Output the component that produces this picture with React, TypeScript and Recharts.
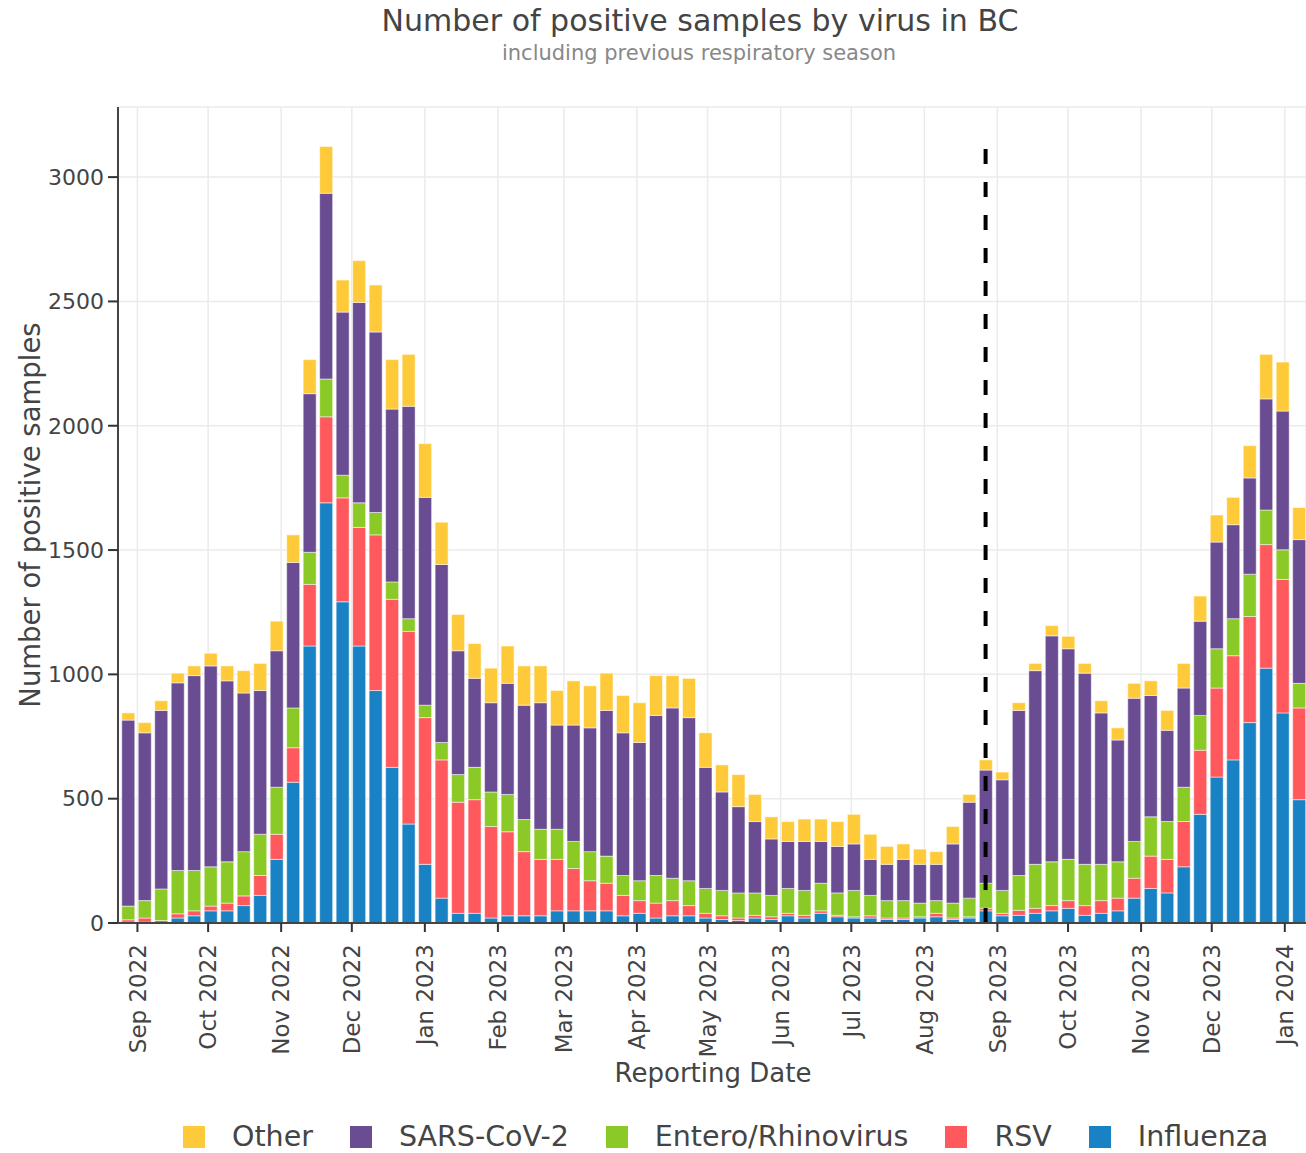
import React from "react"
import {
  BarChart,
  Bar,
  XAxis,
  YAxis,
  CartesianGrid,
  ReferenceLine,
} from "recharts"

// weekly reporting dates (week start)
const weeks = [
  "2022-08-28", "2022-09-04", "2022-09-11", "2022-09-18", "2022-09-25", "2022-10-02",
  "2022-10-09", "2022-10-16", "2022-10-23", "2022-10-30", "2022-11-06", "2022-11-13",
  "2022-11-20", "2022-11-27", "2022-12-04", "2022-12-11", "2022-12-18", "2022-12-25",
  "2023-01-01", "2023-01-08", "2023-01-15", "2023-01-22", "2023-01-29", "2023-02-05",
  "2023-02-12", "2023-02-19", "2023-02-26", "2023-03-05", "2023-03-12", "2023-03-19",
  "2023-03-26", "2023-04-02", "2023-04-09", "2023-04-16", "2023-04-23", "2023-04-30",
  "2023-05-07", "2023-05-14", "2023-05-21", "2023-05-28", "2023-06-04", "2023-06-11",
  "2023-06-18", "2023-06-25", "2023-07-02", "2023-07-09", "2023-07-16", "2023-07-23",
  "2023-07-30", "2023-08-06", "2023-08-13", "2023-08-20", "2023-08-27", "2023-09-03",
  "2023-09-10", "2023-09-17", "2023-09-24", "2023-10-01", "2023-10-08", "2023-10-15",
  "2023-10-22", "2023-10-29", "2023-11-05", "2023-11-12", "2023-11-19", "2023-11-26",
  "2023-12-03", "2023-12-10", "2023-12-17", "2023-12-24", "2023-12-31", "2024-01-07",
]

const influenza = [
  3, 3, 2, 20, 29, 49, 49, 70, 111, 256, 566, 1114, 1690, 1292, 1114, 935, 626, 398,
  236, 100, 39, 39, 20, 29, 29, 29, 49, 49, 49, 49, 29, 39, 20, 29, 29, 20, 14, 10,
  20, 14, 29, 20, 39, 25, 20, 20, 14, 14, 20, 25, 14, 20, 49, 29, 31, 39, 49, 59,
  31, 39, 49, 100, 139, 121, 226, 437, 587, 656, 806, 1025, 845, 496,
]
const rsv = [
  10, 17, 8, 17, 20, 19, 31, 39, 80, 101, 139, 248, 346, 418, 477, 626, 676, 775,
  590, 556, 447, 457, 368, 338, 258, 227, 207, 170, 121, 111, 82, 51, 60, 61, 41, 19,
  15, 10, 11, 11, 10, 11, 10, 6, 5, 9, 6, 6, 5, 14, 6, 5, 10, 10, 20, 20, 21, 31,
  39, 51, 51, 80, 130, 135, 182, 258, 358, 419, 427, 497, 537, 369,
]
const entero = [
  55, 70, 127, 174, 162, 158, 166, 178, 166, 189, 160, 129, 152, 91, 99, 90, 70, 51,
  50, 70, 111, 130, 139, 150, 129, 121, 121, 109, 117, 109, 80, 80, 111, 90, 100, 100,
  102, 101, 90, 86, 100, 100, 111, 90, 106, 82, 70, 70, 55, 51, 60, 75, 101, 92,
  140, 177, 176, 166, 166, 146, 146, 148, 158, 152, 138, 140, 158, 149, 170, 139, 119, 99,
]
const sarsCov2 = [
  748, 675, 718, 755, 784, 808, 728, 638, 578, 549, 585, 638, 747, 656, 806, 726, 695, 854,
  836, 716, 498, 358, 359, 447, 460, 509, 419, 468, 498, 586, 574, 556, 644, 685, 656, 487,
  396, 347, 287, 227, 189, 197, 168, 187, 187, 145, 146, 166, 156, 146, 238, 386, 455, 445,
  664, 779, 909, 847, 769, 609, 490, 576, 488, 367, 399, 379, 429, 378, 387, 447, 558, 578,
]
const other = [
  29, 41, 39, 39, 39, 51, 60, 90, 109, 119, 111, 137, 188, 129, 168, 189, 199, 209,
  216, 170, 146, 140, 139, 150, 158, 148, 139, 178, 169, 150, 150, 160, 160, 130, 158, 139,
  109, 129, 109, 89, 80, 90, 90, 100, 119, 101, 72, 62, 61, 51, 70, 31, 41, 31,
  31, 29, 41, 50, 39, 49, 49, 60, 59, 80, 99, 101, 109, 110, 130, 179, 197, 129,
]

const monthTicks = [
  "2022-09-01", "2022-10-01", "2022-11-01", "2022-12-01", "2023-01-01", "2023-02-01",
  "2023-03-01", "2023-04-01", "2023-05-01", "2023-06-01", "2023-07-01", "2023-08-01",
  "2023-09-01", "2023-10-01", "2023-11-01", "2023-12-01", "2024-01-01",
]
const monthNames = ["Jan", "Feb", "Mar", "Apr", "May", "Jun", "Jul", "Aug", "Sep", "Oct", "Nov", "Dec"]
const yTicks = [0, 500, 1000, 1500, 2000, 2500, 3000]
const seasonStart = "2023-08-27"

// stacked bottom → top
const series = [
  { key: "influenza", name: "Influenza", color: "#1982C4" },
  { key: "rsv", name: "RSV", color: "#FF595E" },
  { key: "entero", name: "Entero/Rhinovirus", color: "#8AC926" },
  { key: "sars", name: "SARS-CoV-2", color: "#6A4C93" },
  { key: "other", name: "Other", color: "#FFCA3A" },
]

const data = weeks.map((w, i) => ({
  t: Date.parse(w),
  influenza: influenza[i],
  rsv: rsv[i],
  entero: entero[i],
  sars: sarsCov2[i],
  other: other[i],
}))

const font = "'DejaVu Sans', Verdana, sans-serif"

const fmtMonth = (v: number) => {
  const d = new Date(v)
  return `${monthNames[d.getUTCMonth()]} ${d.getUTCFullYear()}`
}

const MonthTick = (props: any) => {
  const { x, y, payload } = props
  return (
    <g transform={`translate(${x},${y})`}>
      <text
        transform="rotate(-90)"
        x={-10}
        y={0}
        dy="0.36em"
        textAnchor="end"
        fontSize={23}
        fill="#444"
        fontFamily={font}
      >
        {fmtMonth(payload.value)}
      </text>
    </g>
  )
}

export default function App() {
  const xDomain = [Date.parse("2022-08-23T18:00:00Z"), Date.parse("2024-01-10T00:00:00Z")]

  return (
    <div style={{ position: "absolute", left: 0, top: 0, width: 1306, height: 1153, background: "#fff", fontFamily: font }}>
      <div style={{ position: "absolute", top: 3, left: 0, width: 1400, textAlign: "center", fontSize: 30, color: "#444" }}>
        Number of positive samples by virus in BC
      </div>
      <div style={{ position: "absolute", top: 41, left: 0, width: 1398, textAlign: "center", fontSize: 21, color: "#888" }}>
        including previous respiratory season
      </div>

      <BarChart
        width={1306}
        height={1153}
        data={data}
        margin={{ top: 107, right: 0, bottom: 60, left: 0 }}
        barGap={0}
      >
        <CartesianGrid stroke="#ebebeb" strokeWidth={1.5} />
        <XAxis
          dataKey="t"
          type="number"
          domain={xDomain}
          ticks={monthTicks.map((m) => Date.parse(m))}
          allowDataOverflow
          height={170}
          tick={<MonthTick />}
          tickSize={9}
          tickMargin={2}
          axisLine={{ stroke: "#444", strokeWidth: 2 }}
          tickLine={{ stroke: "#333", strokeWidth: 2 }}
          interval={0}
        />
        <YAxis
          type="number"
          domain={[0, 3282]}
          ticks={yTicks}
          allowDataOverflow
          width={118}
          tickSize={10}
          tickMargin={4}
          tick={{ fontSize: 22, fill: "#444", fontFamily: font }}
          axisLine={{ stroke: "#444", strokeWidth: 2 }}
          tickLine={{ stroke: "#333", strokeWidth: 2 }}
        />
        {series.map((s) => (
          <Bar
            key={s.key}
            dataKey={s.key}
            name={s.name}
            stackId="a"
            fill={s.color}
            stroke="#ffffff"
            strokeWidth={0.5}
            barSize={13}
            isAnimationActive={false}
          />
        ))}
        <ReferenceLine
          segment={[
            { x: Date.parse(seasonStart), y: 0 },
            { x: Date.parse(seasonStart), y: 3125 },
          ]}
          stroke="#000"
          strokeWidth={4}
          strokeDasharray="15 18"
        />
      </BarChart>

      <div
        style={{
          position: "absolute",
          left: 30,
          top: 515,
          transform: "translate(-50%, -50%) rotate(-90deg)",
          whiteSpace: "nowrap",
          fontSize: 27.5,
          color: "#444",
        }}
      >
        Number of positive samples
      </div>
      <div style={{ position: "absolute", left: 613, top: 1058, width: 200, textAlign: "center", whiteSpace: "nowrap", fontSize: 26, color: "#444" }}>
        Reporting Date
      </div>

      <div style={{ position: "absolute", left: 183, top: 1120, display: "flex", alignItems: "center", fontSize: 28.5, color: "#444" }}>
        {[...series].reverse().map((s) => (
          <div key={s.key} style={{ display: "flex", alignItems: "center", marginRight: 37 }}>
            <span style={{ width: 22, height: 22, background: s.color, display: "inline-block", marginRight: 27 }} />
            <span>{s.name}</span>
          </div>
        ))}
      </div>
    </div>
  )
}
